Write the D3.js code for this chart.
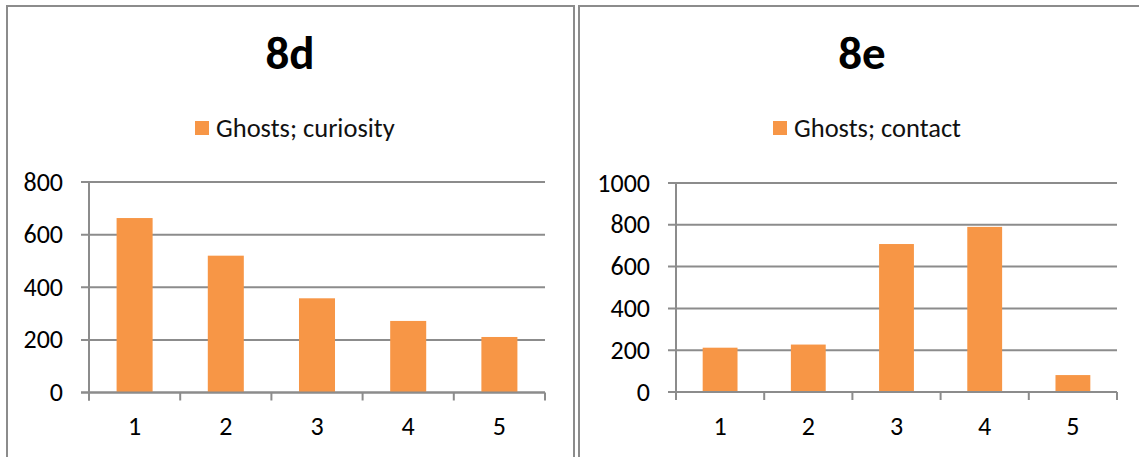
<!DOCTYPE html>
<html>
<head>
<meta charset="utf-8">
<script src="https://cdn.jsdelivr.net/npm/d3@7"></script>
<style>
  body { margin: 0; background: #fff; }
  svg { display: block; font-family: Carlito, Calibri, "Open Sans", sans-serif; }
</style>
</head>
<body>
<script>
const categories = ["1", "2", "3", "4", "5"];
const curiosityValues = [663, 520, 358, 272, 211];
const contactValues = [212, 227, 708, 790, 81];
const curiosityTicks = [0, 200, 400, 600, 800];
const contactTicks = [0, 200, 400, 600, 800, 1000];

const width = 1139;
const height = 457;
const gray = "#8c8c8c";
const barColor = "#f79646";

const svg = d3
  .select("body")
  .append("svg")
  .attr("width", width)
  .attr("height", height);

// panel frames
svg
  .append("path")
  .attr("d", "M7,470 V6 H574 V470")
  .attr("fill", "none")
  .attr("stroke", gray)
  .attr("stroke-width", 2);
svg
  .append("path")
  .attr("d", "M579,470 V6 H1145")
  .attr("fill", "none")
  .attr("stroke", gray)
  .attr("stroke-width", 2);

const drawPanel = (opt) => {
  const { title, label, values, ticks, x0, x1, y0, y1, cx, legendX } = opt;
  const g = svg.append("g");

  const xScale = d3
    .scaleBand()
    .domain(categories)
    .range([x0, x1])
    .paddingInner(0.605)
    .paddingOuter(0.3025);

  const yScale = d3
    .scaleLinear()
    .domain([0, d3.max(ticks)])
    .range([y0, y1]);

  g.append("text")
    .attr("x", cx)
    .attr("y", 69)
    .attr("text-anchor", "middle")
    .attr("font-size", 47)
    .attr("font-weight", "bold")
    .text(title);

  // legend
  g.append("rect")
    .attr("x", legendX)
    .attr("y", 121)
    .attr("width", 14)
    .attr("height", 14)
    .attr("fill", barColor);
  g.append("text")
    .attr("x", legendX + 21)
    .attr("y", 137)
    .attr("font-size", 26.5)
    .attr("fill", "#111")
    .text(label);

  // gridlines + y labels
  g.selectAll(".grid")
    .data(ticks)
    .enter()
    .append("line")
    .attr("x1", x0 - 8)
    .attr("x2", x1)
    .attr("y1", (d) => yScale(d))
    .attr("y2", (d) => yScale(d))
    .attr("stroke", gray)
    .attr("stroke-width", 2);

  g.selectAll(".ylab")
    .data(ticks)
    .enter()
    .append("text")
    .attr("x", x0 - 26)
    .attr("y", (d) => yScale(d))
    .attr("dy", "0.33em")
    .attr("text-anchor", "end")
    .attr("font-size", 26)
    .text((d) => d);

  // bars
  g.selectAll(".bar")
    .data(values)
    .enter()
    .append("rect")
    .attr("x", (d, i) => xScale(categories[i]))
    .attr("width", xScale.bandwidth())
    .attr("y", (d) => yScale(d))
    .attr("height", (d) => yScale(0) - yScale(d))
    .attr("fill", barColor);

  // axes
  g.append("line")
    .attr("x1", x0)
    .attr("x2", x0)
    .attr("y1", y1)
    .attr("y2", y0 + 8)
    .attr("stroke", gray)
    .attr("stroke-width", 2);
  g.append("line")
    .attr("x1", x0 - 8)
    .attr("x2", x1)
    .attr("y1", y0)
    .attr("y2", y0)
    .attr("stroke", gray)
    .attr("stroke-width", 2);

  g.selectAll(".xtick")
    .data(d3.range(categories.length + 1))
    .enter()
    .append("line")
    .attr("x1", (i) => x0 + i * xScale.step())
    .attr("x2", (i) => x0 + i * xScale.step())
    .attr("y1", y0)
    .attr("y2", y0 + 8)
    .attr("stroke", gray)
    .attr("stroke-width", 2);

  g.selectAll(".xlab")
    .data(categories)
    .enter()
    .append("text")
    .attr("x", (d) => xScale(d) + xScale.bandwidth() / 2)
    .attr("y", 435)
    .attr("text-anchor", "middle")
    .attr("font-size", 26)
    .text((d) => d);
};

drawPanel({
  title: "8d",
  label: "Ghosts; curiosity",
  values: curiosityValues,
  ticks: curiosityTicks,
  x0: 89,
  x1: 545,
  y0: 392.5,
  y1: 182,
  cx: 290,
  legendX: 195
});

drawPanel({
  title: "8e",
  label: "Ghosts; contact",
  values: contactValues,
  ticks: contactTicks,
  x0: 676,
  x1: 1117,
  y0: 392,
  y1: 183,
  cx: 862,
  legendX: 773
});
</script>
</body>
</html>
